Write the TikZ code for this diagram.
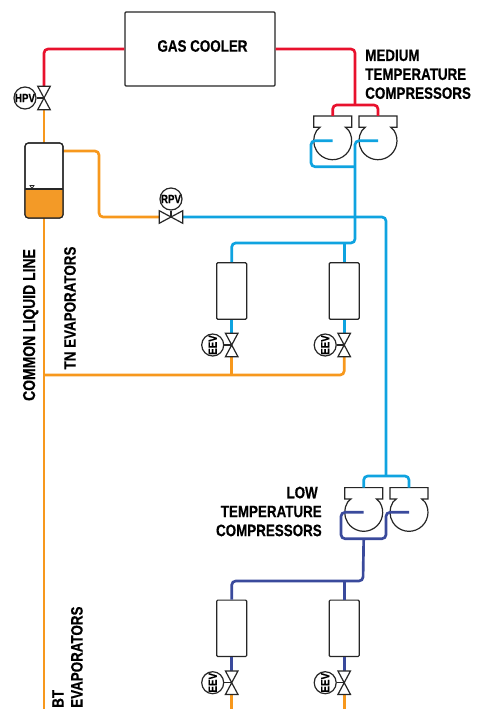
\documentclass[tikz,border=0pt]{standalone}
\usepackage{fontspec}
\newfontfamily\labelfont[FakeStretch=0.81,FakeBold=0.4]{Liberation Sans Bold}
\usepackage{tikz}
\usetikzlibrary{calc}

\definecolor{pipered}{HTML}{E8112D}
\definecolor{pipeorange}{HTML}{F7981D}
\definecolor{pipeblue}{HTML}{0FA3E0}
\definecolor{pipenavy}{HTML}{3A4A9C}
\definecolor{tankorange}{HTML}{F39A27}

\tikzset{
	pipe/.style = {line width = 2pt, rounded corners = 3pt},
	outline/.style = {draw = black!85, line width = 0.9pt},
	boxnode/.style = {outline, fill = white, rounded corners = 0.8pt, inner sep = 0pt},
	evapbox/.style = {boxnode, minimum width = 22.5pt, minimum height = 42.3pt},
	valvetall/.style = {inner sep = 0pt, minimum width = 9pt, minimum height = 17.2pt},
	valvewide/.style = {inner sep = 0pt, minimum width = 17.2pt, minimum height = 9pt},
	gaugenode/.style = {outline, circle, fill = white, inner sep = 0pt, minimum size = 16.5pt, font = \labelfont\fontsize{9}{9}\selectfont},
	compbody/.style = {inner sep = 0pt, minimum size = 28.5pt, circle},
	labelnode/.style = {font = \labelfont\fontsize{12.4}{14.2}\selectfont, inner sep = 0pt}
}

\begin{document}
\begin{tikzpicture}[x = 0.75pt, y = -0.75pt]
\useasboundingbox (0,0) rectangle (477,709);

\coordinate (lineEnd) at (44,709);
\coordinate (lineTee) at (44,375);
\coordinate (tankOut) at (63,151);
\coordinate (rpvTurn) at (99,217);
\coordinate (mtJoint) at (355,105);
\coordinate (mtLoop) at (311,166.7);
\coordinate (mtDrop) at (355,243);
\coordinate (ltJoint) at (386,476);
\coordinate (ltLoopA) at (341,538.7);
\coordinate (ltLoopB) at (386,538.7);
\coordinate (ltDrop) at (363,581);

% compressors
\foreach \name/\x/\y in {mtA/332.7/140.7, mtB/378/140.7, ltA/363.7/512.3, ltB/409/512.3} {
	\node[compbody] (\name) at (\x,\y) {};
	\coordinate (\name head) at (\x,\y-24.7);
	\draw[outline, fill = white] (\x-19,\y-24.7)--(\x+19,\y-24.7)--(\x+19,\y-13.4)--(\x+12.7,\y-13.4)--(\x+16,\y-10.2)
		arc (-32.5:212.5:19)--(\x-12.7,\y-13.4)--(\x-19,\y-13.4)--cycle;
}

\node[boxnode, minimum width = 112.5pt, minimum height = 55.5pt] (gasCooler) at (200,49) {};
\node[labelnode] (gasLabel) at (202.5,46) {GAS COOLER};

% evaporators
\foreach \name/\x/\y in {evapA/231.7/291, evapB/344.2/291, evapC/231.7/628.3, evapD/344.2/628.3}
	\node[evapbox] (\name) at (\x,\y) {};

% valves
\node[valvetall] (hpvValve) at (44,98) {};
\node[valvewide] (rpvValve) at (171,217) {};
\foreach \name/\x/\y in {eevA/231.7/345, eevB/344.2/345, eevC/231.7/682.7, eevD/344.2/682.7}
	\node[valvetall] (\name) at (\x,\y) {};

% pipes
\draw[pipe, pipered] (gasCooler.west)-|(hpvValve.north);
\draw[pipe, pipered] (gasCooler.east)-|(mtJoint);
\draw[pipe, pipered] (mtAhead)|-(mtJoint)-|(mtBhead);

\draw[pipe, pipeorange] (hpvValve.south)--(44,143);
\draw[pipe, pipeorange] (tankOut)-|(rpvTurn)--(rpvValve.west);
\draw[pipe, pipeorange] (44,218)--(lineEnd);
\draw[pipe, pipeorange] (lineTee)-|(eevB.south);
\draw[pipe, pipeorange] (eevA.south)--(eevA.south |- lineTee);
\draw[pipe, pipeorange] (eevC.south)--(eevC.south |- lineEnd);
\draw[pipe, pipeorange] (eevD.south)--(eevD.south |- lineEnd);

\draw[pipe, pipeblue] (mtA.center)-|(mtLoop)--(mtLoop -| mtDrop);
\draw[pipe, pipeblue] (mtB.center)-|(mtDrop)-|(evapA.north);
\draw[pipe, pipeblue] (evapB.north)--(evapB.north |- mtDrop);
\draw[pipe, pipeblue] (rpvValve.east)-|(ltJoint);
\draw[pipe, pipeblue] (ltAhead)|-(ltJoint)-|(ltBhead);
\draw[pipe, pipeblue] (evapA.south)--(eevA.north);
\draw[pipe, pipeblue] (evapB.south)--(eevB.north);

\draw[pipe, pipenavy] (ltA.center)-|(ltLoopA)--(ltLoopB)|-(ltB.center);
\draw[pipe, pipenavy] (ltA |- ltLoopA)--(ltDrop)-|(evapC.north);
\draw[pipe, pipenavy] (evapD.north)--(evapD.north |- ltDrop);
\draw[pipe, pipenavy] (evapC.south)--(eevC.north);
\draw[pipe, pipenavy] (evapD.south)--(eevD.north);

% receiver
\node[boxnode, rounded corners = 2.5pt, minimum width = 28.5pt, minimum height = 56.2pt] (tank) at (44,180.5) {};
\fill[tankorange, rounded corners = 2.5pt] (25,189)--(63,189)--(63,218)--(25,218)--cycle;
\fill[tankorange] (25,189) rectangle (63,200);
\node[boxnode, fill = none, rounded corners = 2.5pt, minimum width = 28.5pt, minimum height = 56.2pt] (tankEdge) at (44,180.5) {};
\draw[outline] (25,189)--(63,189);
\draw[outline, line width = 0.6pt] (30,185.5)--(34,185.5)--(32,188.5)--cycle;

% valve bodies and gauges
\foreach \v in {hpvValve, eevA, eevB, eevC, eevD}
	\draw[outline, fill = white] (\v.north west)--(\v.south east)--(\v.south west)--(\v.north east)--cycle;
\draw[outline, fill = white] (rpvValve.north west)--(rpvValve.south west)--(rpvValve.north east)--(rpvValve.south east)--cycle;

\node[gaugenode] (hpvGauge) at (25,98) {HPV};
\node[gaugenode] (rpvGauge) at (171,199) {RPV};
\foreach \name/\x/\y in {gaugeA/212.7/345, gaugeB/325.2/345, gaugeC/212.7/682.7, gaugeD/325.2/682.7}
	\node[gaugenode] (\name) at (\x,\y) {\rotatebox{90}{EEV}};
\draw[outline] (hpvGauge)--(hpvValve.center);
\draw[outline] (rpvGauge)--(rpvValve.center);
\draw[outline] (gaugeA)--(eevA.center);
\draw[outline] (gaugeB)--(eevB.center);
\draw[outline] (gaugeC)--(eevC.center);
\draw[outline] (gaugeD)--(eevD.center);

% labels
\node[labelnode, align = left, anchor = west] (mtLabel) at (365,74.3) {MEDIUM\\TEMPERATURE\\COMPRESSORS};
\node[labelnode, align = right, anchor = east] (ltLabel) at (322,511.5) {LOW\hspace*{3pt}\\TEMPERATURE\hspace*{3pt}\\COMPRESSORS};
\node[labelnode, rotate = 90, font = \labelfont\fontsize{12.9}{14}\selectfont] (commonLabel) at (30.7,325) {COMMON LIQUID LINE};
\node[labelnode, rotate = 90] (tnLabel) at (70,308) {TN EVAPORATORS};
\node[labelnode, rotate = 90, align = left, anchor = west] (btLabel) at (67.5,708) {BT\\EVAPORATORS};
\end{tikzpicture}
\end{document}
